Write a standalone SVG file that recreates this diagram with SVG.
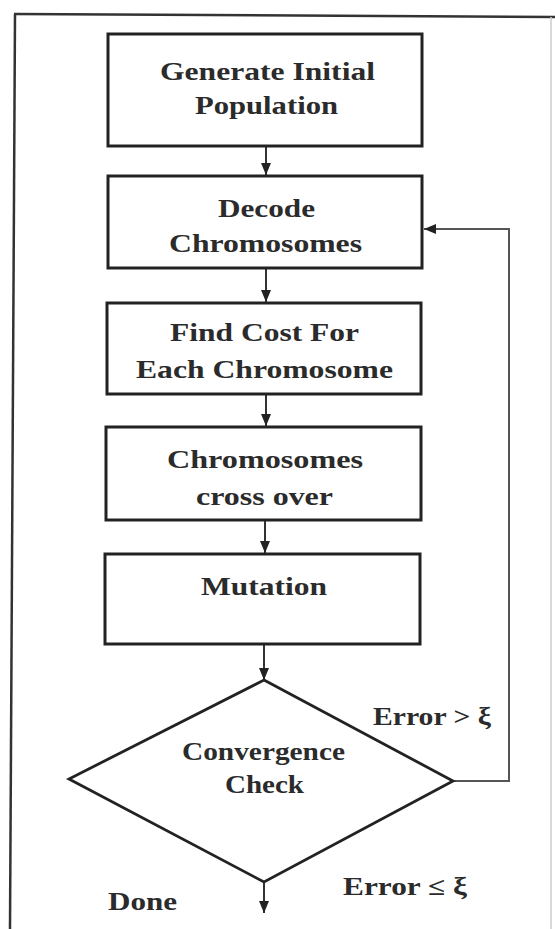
<svg xmlns="http://www.w3.org/2000/svg" width="555" height="929" viewBox="0 0 555 929">
<style>
.box{fill:#fff;stroke:#222;stroke-width:3}
.dia{fill:#fff;stroke:#222;stroke-width:2.8}
.t{font-family:"Liberation Serif","Times New Roman",serif;font-size:25px;font-weight:bold;fill:#2b2b2b}
.c{fill:none;stroke:#333;stroke-width:2}
.fb{fill:none;stroke:#555;stroke-width:2}
.frame{fill:none;stroke:#333;stroke-width:2.5}
</style>
<defs>
<marker id="ah" viewBox="0 0 12 12" refX="12" refY="6" markerWidth="12" markerHeight="12" markerUnits="userSpaceOnUse" orient="auto">
<path d="M0,1 L12,6 L0,11 Z" fill="#222"/>
</marker>
</defs>
<rect width="555" height="929" fill="#fff"/>
<g id="frame">
<line class="frame" x1="15" y1="14" x2="10" y2="929"/>
<line class="frame" x1="14" y1="14" x2="555" y2="17"/>
<line x1="551" y1="17" x2="551" y2="929" stroke="#ccc" stroke-width="1.5"/>
</g>
<g id="connectors">
<line class="c" x1="266" y1="147" x2="266" y2="175" marker-end="url(#ah)"/>
<line class="c" x1="266" y1="268" x2="266" y2="302" marker-end="url(#ah)"/>
<line class="c" x1="266" y1="394" x2="266" y2="426" marker-end="url(#ah)"/>
<line class="c" x1="265" y1="520" x2="265" y2="553" marker-end="url(#ah)"/>
<line class="c" x1="264" y1="645" x2="264" y2="680" marker-end="url(#ah)"/>
<line class="c" x1="264" y1="882" x2="264" y2="913" marker-end="url(#ah)"/>
<polyline class="fb" points="453,781 509,781 509,229 424,229" marker-end="url(#ah)"/>
</g>
<g id="n1">
<rect class="box" x="108" y="34" width="314" height="112"/>
<text class="t" x="160" y="80" textLength="215" lengthAdjust="spacingAndGlyphs">Generate Initial</text>
<text class="t" x="195" y="114" textLength="143" lengthAdjust="spacingAndGlyphs">Population</text>
</g>
<g id="n2">
<rect class="box" x="108" y="176" width="314" height="92"/>
<text class="t" x="218" y="217" textLength="97" lengthAdjust="spacingAndGlyphs">Decode</text>
<text class="t" x="169" y="252" textLength="193" lengthAdjust="spacingAndGlyphs">Chromosomes</text>
</g>
<g id="n3">
<rect class="box" x="107" y="303" width="314" height="91"/>
<text class="t" x="170" y="341" textLength="189" lengthAdjust="spacingAndGlyphs">Find Cost For</text>
<text class="t" x="136" y="378" textLength="257" lengthAdjust="spacingAndGlyphs">Each Chromosome</text>
</g>
<g id="n4">
<rect class="box" x="106" y="427" width="315" height="93"/>
<text class="t" x="167" y="468" textLength="196" lengthAdjust="spacingAndGlyphs">Chromosomes</text>
<text class="t" x="196" y="505" textLength="137" lengthAdjust="spacingAndGlyphs">cross over</text>
</g>
<g id="n5">
<rect class="box" x="105" y="554" width="315" height="90"/>
<text class="t" x="201" y="595" textLength="126" lengthAdjust="spacingAndGlyphs">Mutation</text>
</g>
<g id="n6">
<polygon class="dia" points="264,680 453,781 264,882 69,779"/>
<text class="t" x="182" y="760" textLength="163" lengthAdjust="spacingAndGlyphs">Convergence</text>
<text class="t" x="225" y="793" textLength="79" lengthAdjust="spacingAndGlyphs">Check</text>
</g>
<g id="labels">
<text class="t" x="373" y="725" textLength="118" lengthAdjust="spacingAndGlyphs">Error &gt; ξ</text>
<text class="t" x="343" y="895" textLength="124" lengthAdjust="spacingAndGlyphs">Error ≤ ξ</text>
<text class="t" x="108" y="910" textLength="69" lengthAdjust="spacingAndGlyphs">Done</text>
</g>
</svg>
